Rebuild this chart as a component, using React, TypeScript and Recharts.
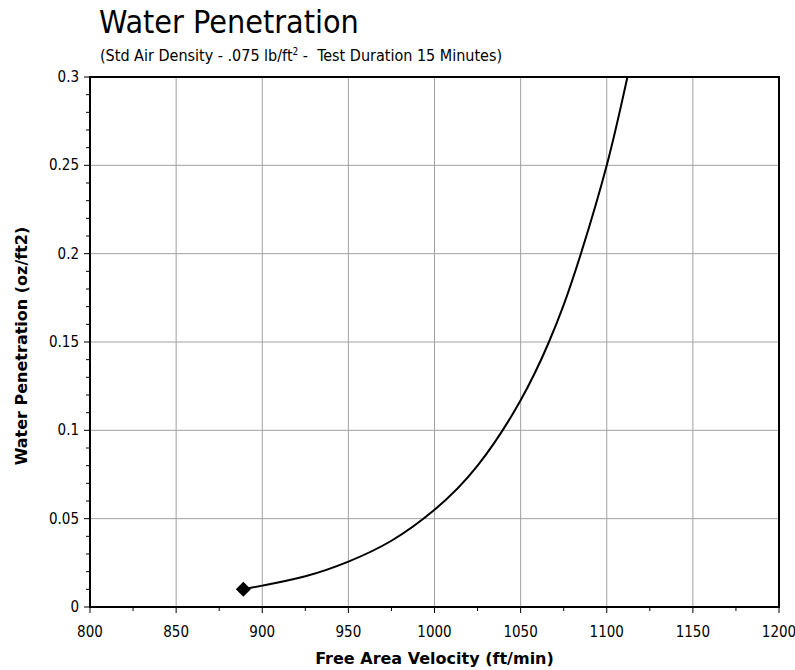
import { LineChart, Line, XAxis, YAxis, CartesianGrid, ReferenceArea } from "recharts";

const velocity = [889, 900, 925, 950, 975, 1000, 1025, 1050, 1066, 1075, 1085, 1100, 1112];
const penetration = [0.01, 0.0121, 0.0174, 0.0257, 0.0375, 0.055, 0.08, 0.117, 0.149, 0.171, 0.2, 0.25, 0.3];

const xMajorTicks = [800, 850, 900, 950, 1000, 1050, 1100, 1150, 1200];
const xMinorTicks = [825, 875, 925, 975, 1025, 1075, 1125, 1175];
const yMajorTicks = [0, 0.05, 0.1, 0.15, 0.2, 0.25, 0.3];
const yMinorTicks = [
  0.01, 0.02, 0.03, 0.04, 0.06, 0.07, 0.08, 0.09, 0.11, 0.12, 0.13, 0.14,
  0.16, 0.17, 0.18, 0.19, 0.21, 0.22, 0.23, 0.24, 0.26, 0.27, 0.28, 0.29,
];

const data = velocity.map((v, i) => ({ v, p: penetration[i] }));

const FONT = "'DejaVu Sans Condensed', 'DejaVu Sans', sans-serif";
const FONT_WIDE = "'DejaVu Sans', sans-serif";

const XTick = (props: any) => {
  const { x, y, payload } = props;
  const major = xMajorTicks.includes(payload.value);
  return (
    <g>
      <line x1={x} x2={x} y1={y} y2={y + (major ? 6 : 4)} stroke="#000" strokeWidth={1} />
      {major && (
        <text x={x} y={y + 30} textAnchor="middle" fontFamily={FONT} fontSize={15} fill="#000">
          {payload.value}
        </text>
      )}
    </g>
  );
};

const YTick = (props: any) => {
  const { x, y, payload } = props;
  const major = yMajorTicks.includes(payload.value);
  return (
    <g>
      <line x1={x - (major ? 6 : 4)} x2={x} y1={y} y2={y} stroke="#000" strokeWidth={1} />
      {major && (
        <text x={x - 11} y={y + 5} textAnchor="end" fontFamily={FONT} fontSize={15} fill="#000">
          {payload.value}
        </text>
      )}
    </g>
  );
};

const Diamond = (props: any) => {
  const { cx, cy, index } = props;
  if (index !== 0) return <g key={index} />;
  const r = 7.5;
  return (
    <path
      key={index}
      d={`M${cx},${cy - r} L${cx + r},${cy} L${cx},${cy + r} L${cx - r},${cy} Z`}
      fill="#000"
    />
  );
};

export default function App() {
  return (
    <div style={{ position: "absolute", left: 0, top: 0, width: 795, height: 670, background: "#fff", fontFamily: FONT }}>
      <div style={{ position: "absolute", left: 99, top: 3, fontSize: 32, color: "#000", whiteSpace: "nowrap" }}>
        Water Penetration
      </div>
      <div style={{ position: "absolute", left: 100, top: 46, fontSize: 16, color: "#000", whiteSpace: "pre" }}>
        (Std Air Density - .075 lb/ft<sup style={{ fontSize: 10 }}>2</sup> -  Test Duration 15 Minutes)
      </div>
      <LineChart width={795} height={670} data={data} margin={{ top: 77, right: 16, bottom: 0, left: 0 }}>
        <CartesianGrid
          stroke="#a0a0a0"
          strokeWidth={1}
          horizontalValues={yMajorTicks}
          verticalValues={xMajorTicks}
        />
        <XAxis
          dataKey="v"
          type="number"
          domain={[800, 1200]}
          ticks={[...xMajorTicks, ...xMinorTicks].sort((a, b) => a - b)}
          interval={0}
          height={63}
          axisLine={false}
          tickLine={false}
          tickSize={0}
          tickMargin={0}
          tick={<XTick />}
        />
        <YAxis
          type="number"
          domain={[0, 0.3]}
          ticks={[...yMajorTicks, ...yMinorTicks].sort((a, b) => a - b)}
          interval={0}
          width={90}
          axisLine={false}
          tickLine={false}
          tickSize={0}
          tickMargin={0}
          tick={<YTick />}
          allowDataOverflow
        />
        <ReferenceArea x1={800} x2={1200} y1={0} y2={0.3} fill="none" stroke="#000" strokeWidth={2} ifOverflow="visible" />
        <Line
          dataKey="p"
          type="natural"
          stroke="#000"
          strokeWidth={2}
          dot={<Diamond />}
          activeDot={false}
          isAnimationActive={false}
        />
      </LineChart>
      <div style={{ position: "absolute", left: 0, width: 869, top: 649, textAlign: "center", fontSize: 16, fontWeight: "bold", fontFamily: FONT_WIDE }}>
        Free Area Velocity (ft/min)
      </div>
      <div
        style={{
          position: "absolute",
          left: 21,
          top: 346,
          transform: "translate(-50%, -50%) rotate(-90deg)",
          fontSize: 16,
          fontWeight: "bold",
          whiteSpace: "nowrap",
          fontFamily: FONT_WIDE,
        }}
      >
        Water Penetration (oz/ft2)
      </div>
    </div>
  );
}
